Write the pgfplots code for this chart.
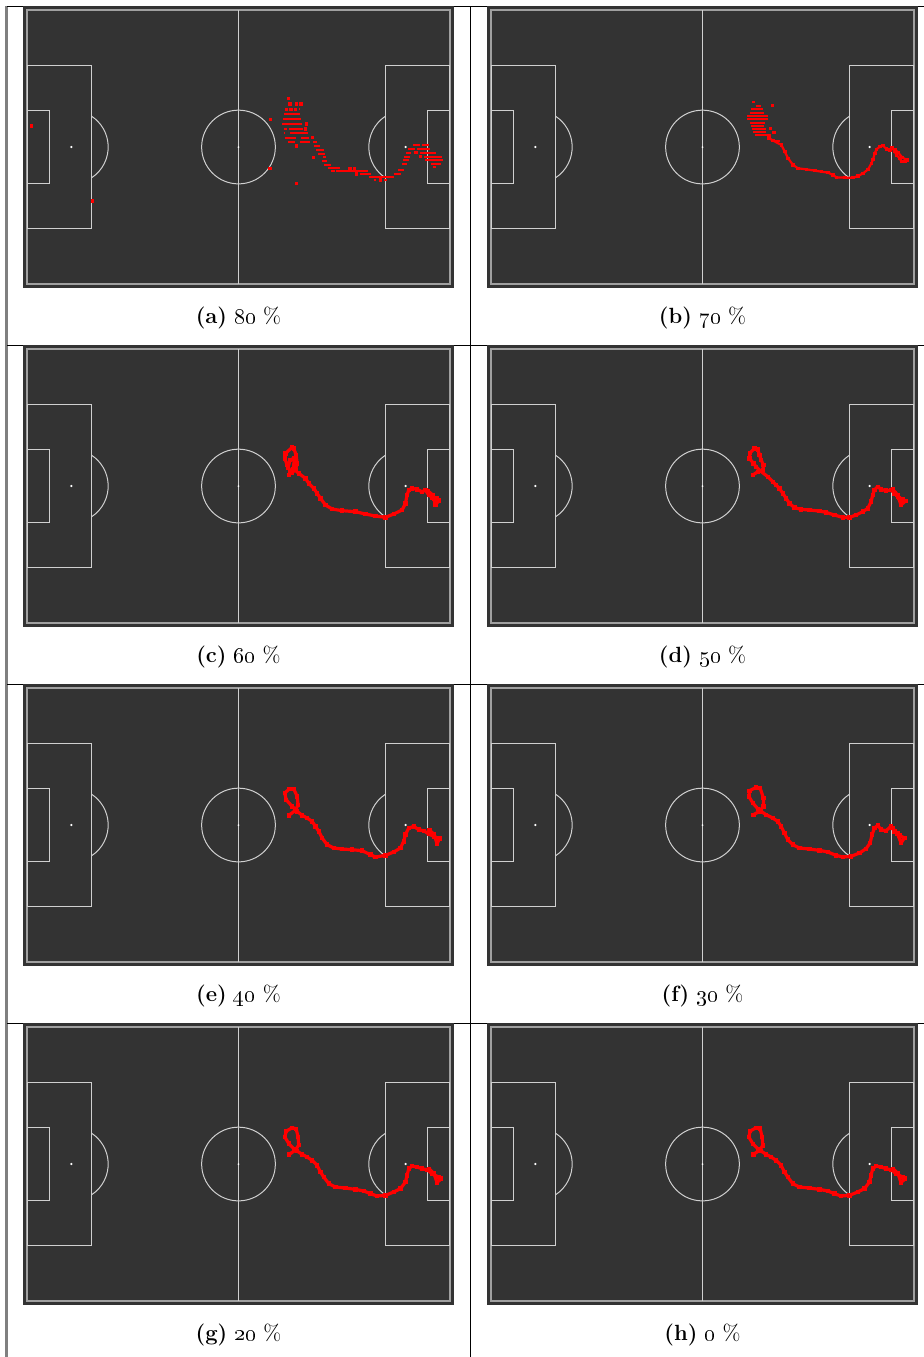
\documentclass[border=0pt]{standalone}
\usepackage{pgfplots}
\pgfplotsset{compat=1.18}

\definecolor{pitchbg}{HTML}{333333}
\definecolor{pline}{HTML}{D0D0D0}
\definecolor{pouter}{HTML}{A0A0A0}
\definecolor{track}{HTML}{FF0000}
\definecolor{frame}{HTML}{808080}

% radius of the centre circle / penalty arcs (9.15 m) in pt
\newcommand{\R}{18.43pt}

\pgfplotsset{
  pitch/.style={width=215.5pt, height=141pt, scale only axis,
    xmin=-53.5, xmax=53.5, ymin=-35, ymax=35,
    axis line style={draw=none}, ticks=none,
    axis background/.style={fill=pitchbg},
    unbounded coords=jump, anchor=south west},
  trackline/.style={track, line width=1.6pt, line join=round, line cap=round,
    mark=square*, mark size=0.85pt, mark options={draw=track, fill=track, line width=0pt}},
  thinline/.style={track, line width=1.1pt, line join=round, line cap=round,
    mark=square*, mark size=0.65pt, mark options={draw=track, fill=track, line width=0pt}},
  trackrows/.style={track, line width=1.1pt, line cap=butt, mark=none},
  trackdots/.style={track, only marks, mark=square*, mark size=0.6pt, mark options={draw=track, fill=track}},
}

% pitch markings
\newcommand{\pitchlines}{%
  \draw[pouter, line width=0.7pt] (axis cs:-52.5,-34) rectangle (axis cs:52.5,34);
  \draw[pline, line width=0.5pt] (axis cs:0,-34) -- (axis cs:0,34);
  \draw[pline, line width=0.5pt] (axis cs:0,0) circle[radius=\R];
  \draw[pline, line width=0.5pt] (axis cs:-52.5,-20.16) rectangle (axis cs:-36.5,20.16);
  \draw[pline, line width=0.5pt] (axis cs:52.5,-20.16) rectangle (axis cs:36.5,20.16);
  \draw[pline, line width=0.5pt] (axis cs:-52.5,-9.16) rectangle (axis cs:-47,9.16);
  \draw[pline, line width=0.5pt] (axis cs:52.5,-9.16) rectangle (axis cs:47,9.16);
  \draw[pline, line width=0.5pt] (axis cs:-36.5,-7.66) arc[start angle=-56.88, end angle=56.88, radius=\R];
  \draw[pline, line width=0.5pt] (axis cs:36.5,7.66) arc[start angle=123.12, end angle=236.88, radius=\R];
  \fill[white] (axis cs:0,0) circle[radius=0.5pt];
  \fill[white] (axis cs:-41.5,0) circle[radius=0.6pt];
  \fill[white] (axis cs:41.5,0) circle[radius=0.6pt];
}

\newcommand{\subcap}[2]{\fontsize{11}{13}\selectfont\textbf{(#1)} \oldstylenums{#2} \%}

\begin{document}
\begin{tikzpicture}
\path[use as bounding box] (0,0) rectangle (462pt,-678.5pt);

% table rules
\draw[frame, line width=1.25pt] (3.25pt,-3pt) -- (3.25pt,-678.5pt);
\draw[black, line width=0.5pt] (235pt,-3pt) -- (235pt,-678.5pt);
\foreach \yy in {-3,-172.5,-342,-511.5}
  \draw[black, line width=0.5pt] (3.5pt,\yy pt) -- (462pt,\yy pt);

% ---------------- (a) 80 %
\begin{axis}[pitch, at={(11.5pt,-144pt)}]
\pitchlines
\addplot[trackrows] coordinates {
(15.05,9.35)(15.22,9.35)(nan,nan)
(11.25,8.11)(15.38,8.11)(nan,nan)
(11.08,6.87)(15.55,6.87)(nan,nan)
(10.84,5.71)(15.80,5.71)(nan,nan)
(11.41,4.47)(12.08,4.47)(nan,nan)
(12.49,4.47)(16.05,4.47)(nan,nan)
(11.25,3.39)(11.66,3.39)(nan,nan)
(12.90,3.39)(17.20,3.39)(nan,nan)
(11.50,2.32)(14.39,2.32)(nan,nan)
(15.55,2.32)(17.45,2.32)(nan,nan)
(12.24,1.24)(14.06,1.24)(nan,nan)
(15.22,1.24)(17.87,1.24)(nan,nan)
(18.53,1.24)(19.52,1.24)(nan,nan)
(18.69,0.25)(20.35,0.25)(nan,nan)
(19.36,-0.74)(21.17,-0.74)(nan,nan)
(19.77,-1.74)(21.59,-1.74)(nan,nan)
(21.01,-2.56)(21.84,-2.56)(nan,nan)
(20.84,-3.47)(22.00,-3.47)(nan,nan)
(21.34,-4.38)(22.99,-4.38)(nan,nan)
(22.25,-5.29)(25.14,-5.29)(nan,nan)
(23.08,-5.87)(24.07,-5.87)(nan,nan)
(24.32,-5.87)(32.09,-5.87)(nan,nan)
(30.27,-6.70)(32.92,-6.70)(nan,nan)
(32.34,-7.44)(38.54,-7.44)(nan,nan)
(33.58,-8.19)(34.08,-8.19)(nan,nan)
(36.23,-8.19)(36.89,-8.19)(nan,nan)
(43.26,0.50)(44.99,0.50)(nan,nan)
(45.57,0.50)(47.39,0.50)(nan,nan)
(42.10,-0.50)(43.92,-0.50)(nan,nan)
(44.33,-0.50)(47.64,-0.50)(nan,nan)
(41.69,-1.41)(42.84,-1.41)(nan,nan)
(45.00,-1.41)(49.13,-1.41)(nan,nan)
(41.19,-2.40)(42.68,-2.40)(nan,nan)
(45.99,-2.40)(50.54,-2.40)(nan,nan)
(40.78,-3.31)(42.35,-3.31)(nan,nan)
(46.40,-3.31)(50.78,-3.31)(nan,nan)
(40.61,-4.22)(41.85,-4.22)(nan,nan)
(47.81,-4.22)(50.29,-4.22)(nan,nan)
(48.22,-5.05)(49.05,-5.05)(nan,nan)
(39.62,-5.71)(41.02,-5.71)(nan,nan)
(38.71,-6.70)(40.36,-6.70)
};
\addplot[trackdots] coordinates {
(12.32,12.08)(12.74,10.67)(14.31,10.67)(15.47,10.67)(11.91,9.35)(12.99,9.35)
(14.06,9.35)(7.86,6.87)(16.79,5.71)(16.54,4.47)(18.28,2.32)(14.31,0.25)
(18.53,-2.56)(7.77,-5.29)(27.62,-5.29)(28.78,-5.29)(29.20,-6.70)(35.24,-8.19)
(14.31,-9.02)(44.09,-1.41)(45.16,-2.40)(-51.4,5.2)(-36.2,-13.4)
};
\end{axis}
\node at (119.25pt,-159pt) {\subcap{a}{80}};

% ---------------- (b) 70 %
\begin{axis}[pitch, at={(243.5pt,-144pt)}]
\pitchlines
\addplot[trackrows] coordinates {
(12.32,11.17)(12.99,11.17)(nan,nan)
(13.23,10.26)(14.64,10.26)(nan,nan)
(11.99,9.35)(15.05,9.35)(nan,nan)
(11.75,8.44)(15.30,8.44)(nan,nan)
(11.17,7.61)(16.29,7.61)(nan,nan)
(11.17,6.87)(16.29,6.87)(nan,nan)
(11.75,6.04)(15.47,6.04)(nan,nan)
(12.16,5.29)(15.30,5.29)(nan,nan)
(12.41,4.55)(15.88,4.55)(nan,nan)
(12.57,3.80)(15.88,3.80)(nan,nan)
(12.99,2.98)(16.96,2.98)(nan,nan)
(16.29,2.15)(16.71,2.15)(nan,nan)
(17.12,1.57)(19.19,1.57)
};
\addplot[trackdots] coordinates {(17.29,10.26)(16.87,4.55)(17.70,3.56)};
\addplot[thinline] coordinates {
(16.5,2.2)(17.5,1.6)(19.60,0.50)(20.43,-1.16)(21.26,-2.81)(22.50,-4.47)(23.74,-5.29)
(25.81,-5.54)(27.87,-5.87)(29.53,-6.12)(31.18,-6.37)(32.42,-6.95)(33.25,-7.53)
(35.32,-7.61)(37.39,-7.61)(38.63,-7.20)(39.87,-6.53)(41.11,-5.54)(41.93,-4.05)
(42.35,-3.06)(42.76,-1.57)(43.18,-0.58)(44.00,0.08)(44.83,0.33)(45.66,-0.50)
(46.48,-0.74)(47.06,-0.17)(47.72,-1.16)(48.14,-1.99)(48.96,-2.81)(49.38,-3.64)
(50.20,-3.64)(50.78,-3.23)(49.6,-2.6)(48.6,-1.4)(47.8,-0.6)
};
\end{axis}
\node at (351.25pt,-159pt) {\subcap{b}{70}};

% ---------------- (c) 60 %
\begin{axis}[pitch, at={(11.5pt,-313.5pt)}]
\pitchlines
\addplot[trackline] coordinates {
(12.49,2.73)(12.90,3.55)(12.07,5.21)(11.50,6.86)(11.66,8.10)(13.32,9.59)(13.73,9.34)
(14.31,7.69)(14.56,5.62)(14.14,3.97)(13.20,3.30)(12.30,4.60)(12.80,6.40)(13.90,7.00)
(13.60,4.30)(14.97,3.14)(16.62,1.90)(17.45,0.66)
(18.69,-0.58)(19.52,-1.82)(20.35,-3.06)(21.59,-4.72)(23.24,-5.71)(25.72,-6.12)
(29.03,-6.37)(31.51,-6.95)(33.99,-7.45)(36.47,-7.78)(38.54,-6.95)(40.61,-5.96)
(41.44,-4.30)(41.85,-2.24)(42.26,-1.00)(43.09,-0.58)(44.33,-0.83)(45.57,-1.41)
(46.40,-1.00)(47.23,-2.24)(48.47,-3.06)(49.71,-3.64)(48.88,-4.72)(48.30,-2.30)
(47.00,-1.20)(48.00,-2.80)(49.20,-3.00)
};
\end{axis}
\node at (119.25pt,-328.5pt) {\subcap{c}{60}};

% ---------------- (d) 50 %
\begin{axis}[pitch, at={(243.5pt,-313.5pt)}]
\pitchlines
\addplot[trackline] coordinates {
(12.49,2.73)(13.73,3.55)(14.97,3.97)(15.14,5.21)(14.56,6.45)(14.14,7.69)(13.73,9.09)
(12.90,9.34)(11.83,8.27)(11.66,6.86)(12.65,5.62)(13.32,4.79)(14.31,3.80)(16.21,2.31)
(17.45,1.07)(18.28,0.24)(19.11,-0.58)(19.93,-1.82)(20.76,-3.06)(21.59,-4.30)
(22.83,-5.38)(24.48,-5.79)(26.55,-5.96)(29.03,-6.21)(30.68,-6.54)(32.75,-7.20)
(34.82,-7.78)(36.47,-7.78)(38.13,-7.20)(39.78,-6.37)(41.02,-5.55)(41.85,-3.89)
(42.26,-2.24)(42.68,-1.00)(43.50,-0.17)(44.33,-0.83)(45.57,-1.16)(46.81,-1.00)
(47.64,-1.82)(48.47,-2.65)(49.71,-3.31)(50.37,-3.73)(49.29,-4.72)(48.40,-2.20)
(47.30,-0.90)(48.80,-3.00)
};
\end{axis}
\node at (351.25pt,-328.5pt) {\subcap{d}{50}};

% ---------------- (e) 40 %
\begin{axis}[pitch, at={(11.5pt,-483pt)}]
\pitchlines
\addplot[trackline] coordinates {
(12.49,2.40)(14.14,3.64)(14.80,5.04)(14.56,7.11)(13.73,8.93)(12.65,9.01)(11.50,7.94)
(11.83,6.28)(13.32,4.63)(14.56,3.39)(15.80,2.40)(17.04,1.73)(18.28,0.91)(19.11,-0.33)
(19.93,-1.57)(20.76,-3.23)(22.00,-4.88)(23.65,-5.71)(25.72,-5.96)(28.20,-6.12)
(30.68,-6.37)(32.75,-7.36)(33.99,-7.94)(36.47,-7.53)(38.54,-6.70)(40.20,-5.71)
(41.02,-4.05)(41.44,-2.40)(42.26,-0.75)(43.50,-0.33)(44.75,-1.16)(45.99,-1.41)
(47.23,-2.24)(48.47,-2.81)(49.87,-3.39)(49.29,-4.72)(48.60,-2.30)(47.40,-1.30)
};
\end{axis}
\node at (119.25pt,-498pt) {\subcap{e}{40}};

% ---------------- (f) 30 %
\begin{axis}[pitch, at={(243.5pt,-483pt)}]
\pitchlines
\addplot[trackline] coordinates {
(12.65,2.56)(14.14,3.39)(15.14,4.63)(15.14,6.70)(14.31,9.18)(13.32,9.34)(11.66,8.52)
(11.50,7.11)(12.49,5.46)(13.73,4.05)(14.56,3.39)(15.80,2.56)(17.45,1.73)(18.69,0.91)
(19.52,-0.33)(20.35,-1.99)(21.17,-3.64)(22.41,-4.88)(24.07,-5.71)(26.55,-5.96)
(29.03,-6.29)(31.10,-6.70)(33.16,-7.53)(34.82,-7.94)(36.89,-7.78)(38.96,-6.95)
(40.61,-5.88)(41.60,-4.47)(42.10,-2.40)(42.68,-0.75)(43.50,-0.08)(44.33,-1.16)
(45.57,-1.41)(46.81,-0.33)(47.64,-1.57)(48.88,-2.56)(50.12,-3.23)(49.29,-4.47)
(48.40,-2.10)(47.20,-0.80)
};
\end{axis}
\node at (351.25pt,-498pt) {\subcap{f}{30}};

% ---------------- (g) 20 %
\begin{axis}[pitch, at={(11.5pt,-652.5pt)}]
\pitchlines
\addplot[trackline] coordinates {
(12.60,2.40)(14.14,3.45)(14.95,4.70)(14.80,6.75)(14.30,8.75)(13.30,9.00)(11.85,8.15)
(11.50,6.70)(12.50,5.05)(13.75,3.80)(14.56,3.22)(15.80,2.40)(17.04,1.73)(18.28,0.91)
(19.52,-0.33)(20.35,-1.99)(21.17,-3.23)(22.41,-4.88)(24.07,-5.71)(26.55,-5.96)
(29.03,-6.29)(31.10,-6.70)(32.75,-7.36)(34.41,-7.94)(36.47,-7.78)(38.54,-6.95)
(40.20,-6.12)(41.44,-4.47)(41.85,-2.81)(42.26,-1.16)(43.09,-0.50)(44.33,-0.75)
(45.57,-1.16)(46.81,-1.41)(48.05,-2.40)(49.71,-3.23)(50.29,-3.64)(49.29,-4.63)
(48.50,-2.30)(47.30,-1.20)
};
\end{axis}
\node at (119.25pt,-667.5pt) {\subcap{g}{20}};

% ---------------- (h) 0 %
\begin{axis}[pitch, at={(243.5pt,-652.5pt)}]
\pitchlines
\addplot[trackline] coordinates {
(12.65,2.40)(14.14,3.39)(14.97,4.63)(14.80,6.70)(14.31,8.77)(13.32,9.01)(11.83,8.19)
(11.50,6.70)(12.49,5.04)(13.73,3.80)(14.56,3.22)(15.80,2.40)(17.04,1.73)(18.28,0.91)
(19.52,-0.33)(20.35,-1.99)(21.17,-3.23)(22.41,-4.88)(24.07,-5.71)(26.55,-5.96)
(29.03,-6.29)(31.10,-6.70)(32.75,-7.36)(34.41,-7.94)(36.47,-7.78)(38.54,-6.95)
(40.20,-6.12)(41.44,-4.47)(41.85,-2.81)(42.26,-1.16)(43.09,-0.50)(44.33,-0.75)
(45.57,-1.16)(46.81,-1.41)(48.05,-2.40)(49.71,-3.23)(50.29,-3.64)(49.29,-4.63)
(48.50,-2.30)(47.30,-1.20)
};
\end{axis}
\node at (351.25pt,-667.5pt) {\subcap{h}{0}};

\end{tikzpicture}
\end{document}
